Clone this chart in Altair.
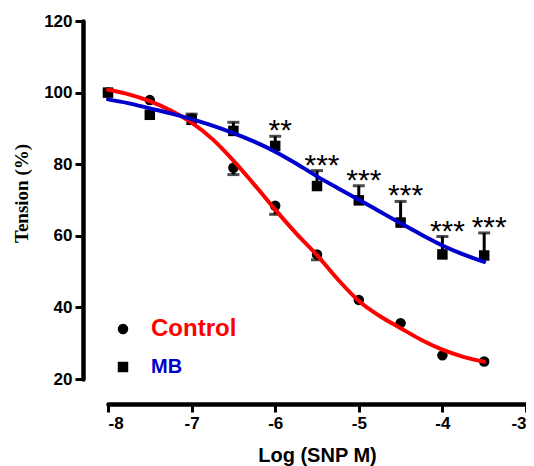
import altair as alt
import pandas as pd

# ---- data ----
doses = [-8, -7.5, -7, -6.5, -6, -5.5, -5, -4.5, -4, -3.5]
control_mean = [100.0, 97.9, 92.8, 79.0, 68.4, 54.8, 42.1, 35.6, 26.6, 24.9]
control_sem = [0, 0, 0, 1.9, 2.4, 1.5, 0, 0, 0, 0]
mb_mean = [100.0, 93.8, 92.4, 89.3, 85.1, 73.9, 69.9, 63.7, 54.8, 54.5]
mb_sem = [0, 0, 1.6, 2.4, 2.7, 4.3, 4.1, 5.9, 5.0, 6.3]
mb_sig = ["", "", "", "", "**", "***", "***", "***", "***", "***"]

curve_x = [-8, -7.75, -7.5, -7.25, -7, -6.75, -6.5, -6.25, -6, -5.75,
           -5.5, -5.25, -5, -4.75, -4.5, -4.25, -4, -3.75, -3.5]
control_fit = [100.8, 99.5, 97.6, 95.0, 91.6, 87.0, 81.0, 74.3, 67.3, 60.7,
               54.6, 47.8, 41.8, 37.6, 34.2, 30.9, 28.2, 26.2, 24.8]
mb_fit = [98.1, 97.0, 95.6, 94.2, 92.6, 90.8, 88.7, 86.3, 83.5, 80.2,
          76.6, 73.3, 70.1, 66.8, 63.5, 60.3, 57.3, 54.8, 52.7]

groups = ["Control", "MB"]
x_ticks = [-8, -7, -6, -5, -4, -3]
y_ticks = [20, 40, 60, 80, 100, 120]

# ---- tables ----
rows = []
for d, m, s in zip(doses, control_mean, control_sem):
    rows.append(dict(dose=d, group="Control", mean=m, lo=m - s, hi=m, cap=m - s, sem=s, sig=""))
for d, m, s, g in zip(doses, mb_mean, mb_sem, mb_sig):
    rows.append(dict(dose=d, group="MB", mean=m, lo=m, hi=m + s, cap=m + s, sem=s, sig=g))
pts = pd.DataFrame(rows)

fit = pd.DataFrame(
    [dict(x=x, group="Control", y=v) for x, v in zip(curve_x, control_fit)]
    + [dict(x=x, group="MB", y=v) for x, v in zip(curve_x, mb_fit)]
)

xs = alt.Scale(domain=[-8, -3], nice=False, zero=False)
ys = alt.Scale(domain=[20, 120], nice=False, zero=False)

x_axis = alt.Axis(
    values=x_ticks, labelExpr="'' + datum.value", offset=25,
    title="Log (SNP M)", titleFont="Liberation Sans", titleFontSize=20,
    titleFontWeight="bold", titleColor="black", titleBaseline="alphabetic", titleY=57,
)
y_axis = alt.Axis(
    values=y_ticks, format="d", offset=25,
    title="Tension (%)", titleFont="Liberation Serif", titleFontSize=19,
    titleFontWeight="bold", titleColor="black", titleBaseline="alphabetic",
    titleX=-56, titleY=172, titleAngle=270,
)

base = alt.Chart(pts)

bars = base.transform_filter("datum.sem > 0").mark_rule(color="black", strokeWidth=3).encode(
    x=alt.X("dose:Q", scale=xs, axis=x_axis),
    y=alt.Y("lo:Q", scale=ys, axis=y_axis),
    y2="hi:Q",
)
caps = base.transform_filter("datum.sem > 0").mark_tick(
    color="black", orient="horizontal", size=12, thickness=3
).encode(
    x=alt.X("dose:Q", scale=xs),
    y=alt.Y("cap:Q", scale=ys),
)
points = base.mark_point(filled=True, opacity=1, color="black", size=110).encode(
    x=alt.X("dose:Q", scale=xs),
    y=alt.Y("mean:Q", scale=ys),
    shape=alt.Shape(
        "group:N",
        scale=alt.Scale(domain=groups, range=["circle", "square"]),
        legend=alt.Legend(
            orient="none", legendX=5, legendY=298, title=None, padding=0,
            labelFont="Liberation Sans", labelFontWeight="bold",
            labelFontSize={"expr": "datum.label == 'Control' ? 24 : 20"},
            labelColor={"expr": "datum.label == 'Control' ? '#FF0000' : '#0000CC'"},
            symbolSize=110, symbolFillColor="black", symbolStrokeWidth=0,
            labelOffset=18, rowPadding=16,
        ),
    ),
)
curves = alt.Chart(fit).mark_line(strokeWidth=4, interpolate="monotone", strokeCap="round").encode(
    x=alt.X("x:Q", scale=xs),
    y=alt.Y("y:Q", scale=ys),
    color=alt.Color("group:N", scale=alt.Scale(domain=groups, range=["#FF0000", "#0000CC"]), legend=None),
)
stars = base.transform_filter("datum.sig != ''").mark_text(
    font="Liberation Sans", fontSize=30, color="black", align="center",
    baseline="alphabetic", dx=5, dy=4,
).encode(
    x=alt.X("dose:Q", scale=xs),
    y=alt.Y("cap:Q", scale=ys),
    text="sig:N",
)

chart = alt.layer(bars, caps, points, curves, stars).properties(
    width=418, height=358,
    autosize=alt.AutoSizeParams(type="none"),
    padding={"left": 100, "top": 13, "right": 0, "bottom": 87},
).configure_view(stroke=None).configure_axis(
    grid=False, domainColor="black", domainWidth=4.5, domainCap="round",
    tickColor="black", tickWidth=3, tickSize=8,
    labelFont="Liberation Sans", labelFontSize=17, labelFontWeight="bold",
    labelColor="black", labelPadding=3,
)

chart.save("out.html", embed_options={"renderer": "svg", "actions": False})
